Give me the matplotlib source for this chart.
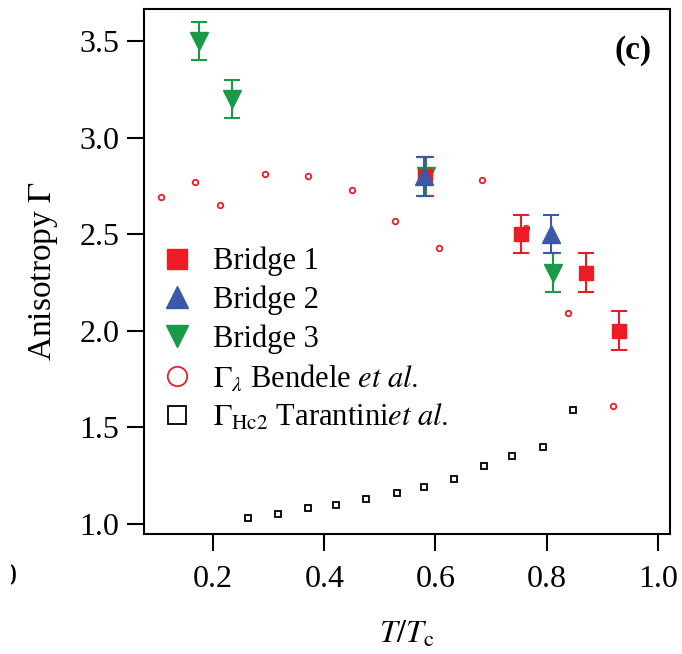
import matplotlib
matplotlib.use("Agg")
import matplotlib.pyplot as plt
from matplotlib.lines import Line2D
from matplotlib.transforms import Bbox

plt.rcParams["font.family"] = ["Liberation Serif", "DejaVu Serif"]
plt.rcParams["mathtext.fontset"] = "stix"

# Bridge measurements (T/Tc, anisotropy, error)
b1_x = [0.581, 0.754, 0.871, 0.930]
b1_y = [2.80, 2.50, 2.30, 2.00]
b1_err = [0.1, 0.1, 0.1, 0.1]

b2_x = [0.579, 0.808]
b2_y = [2.80, 2.50]
b2_err = [0.1, 0.1]

b3_x = [0.175, 0.233, 0.583, 0.811]
b3_y = [3.50, 3.20, 2.80, 2.30]
b3_err = [0.1, 0.1, 0.1, 0.1]

# Bendele et al. (Gamma_lambda)
ben_x = [0.106, 0.168, 0.212, 0.293, 0.371, 0.450, 0.528, 0.606, 0.683, 0.762, 0.839, 0.920]
ben_y = [2.69, 2.77, 2.65, 2.81, 2.80, 2.73, 2.57, 2.43, 2.78, 2.53, 2.09, 1.61]

# Tarantini et al. (Gamma_Hc2)
tar_x = [0.263, 0.317, 0.370, 0.421, 0.475, 0.530, 0.580, 0.633, 0.688, 0.738, 0.793, 0.847]
tar_y = [1.03, 1.05, 1.08, 1.10, 1.13, 1.16, 1.19, 1.235, 1.30, 1.35, 1.40, 1.59]

xticks = [0.2, 0.4, 0.6, 0.8, 1.0]
yticks = [1.0, 1.5, 2.0, 2.5, 3.0, 3.5]

red = "#ed1c24"
blue = "#3b59a7"
green = "#1a9a48"

fig = plt.figure(figsize=(6.82, 6.54), dpi=100)
ax = fig.add_axes([0.2116, 0.1835, 0.7708, 0.8023])

ax.plot(ben_x, ben_y, "o", ms=4, mfc="none", mec=red, mew=1.3, zorder=2)
ax.plot(tar_x, tar_y, "s", ms=5, mfc="none", mec="black", mew=1.3, zorder=2)

ax.errorbar(b3_x, b3_y, yerr=b3_err, fmt="v", ms=13, color=green, ecolor=green,
            elinewidth=1.5, capsize=6, capthick=1.5, zorder=3)
ax.errorbar(b1_x, b1_y, yerr=b1_err, fmt="s", ms=10, color=red, ecolor=red,
            elinewidth=1.5, capsize=6, capthick=1.5, zorder=4)
ax.errorbar(b2_x, b2_y, yerr=b2_err, fmt="^", ms=13, color=blue, ecolor=blue,
            elinewidth=1.5, capsize=6, capthick=1.5, zorder=5)

ax.set_xlim(0.076, 1.022)
ax.set_ylim(0.948, 3.664)
ax.set_xticks(xticks)
ax.set_xticklabels(["%.1f" % v for v in xticks])
ax.set_yticks(yticks)
ax.set_yticklabels(["%.1f" % v for v in yticks])
ax.tick_params(direction="out", length=12, width=1.5, labelsize=23)
ax.tick_params(axis="x", pad=10)
ax.tick_params(axis="y", pad=6)
for s in ax.spines.values():
    s.set_linewidth(1.5)

ax.set_xlabel(r"$T/T_{\mathrm{c}}$", fontsize=23, labelpad=19)
ax.set_ylabel(r"Anisotropy $\Gamma$", fontsize=24, labelpad=14)

ax.text(0.966, 0.922, "(c)", transform=ax.transAxes, fontsize=24,
        fontweight="bold", ha="right", va="center")

handles = [
    Line2D([], [], ls="none", marker="s", ms=14, color=red),
    Line2D([], [], ls="none", marker="^", ms=16, color=blue),
    Line2D([], [], ls="none", marker="v", ms=16, color=green),
    Line2D([], [], ls="none", marker="o", ms=14, mfc="none", mec=red, mew=1.3),
    Line2D([], [], ls="none", marker="s", ms=13, mfc="none", mec="black", mew=1.3),
]
labels = [
    "Bridge 1",
    "Bridge 2",
    "Bridge 3",
    r"$\Gamma_{\lambda}$ Bendele $\mathit{et\ al.}$",
    r"$\Gamma_{\mathrm{Hc2}}$ Tarantini$\mathit{et\ al.}$",
]
ax.legend(handles, labels, loc="upper left", bbox_to_anchor=(0.028, 0.547),
          frameon=False, fontsize=22, handlelength=1.2, handletextpad=0.55,
          labelspacing=0.3, borderaxespad=0, borderpad=0)

# clipped glyph from neighbouring panel at the left edge
t = fig.text(17 / 682, 0.117, "0", fontsize=23, ha="right", va="center")
t.set_clip_box(Bbox.from_extents(11, 0, 20, 200))
t.set_clip_on(True)

fig.savefig("out.png", dpi=100)
